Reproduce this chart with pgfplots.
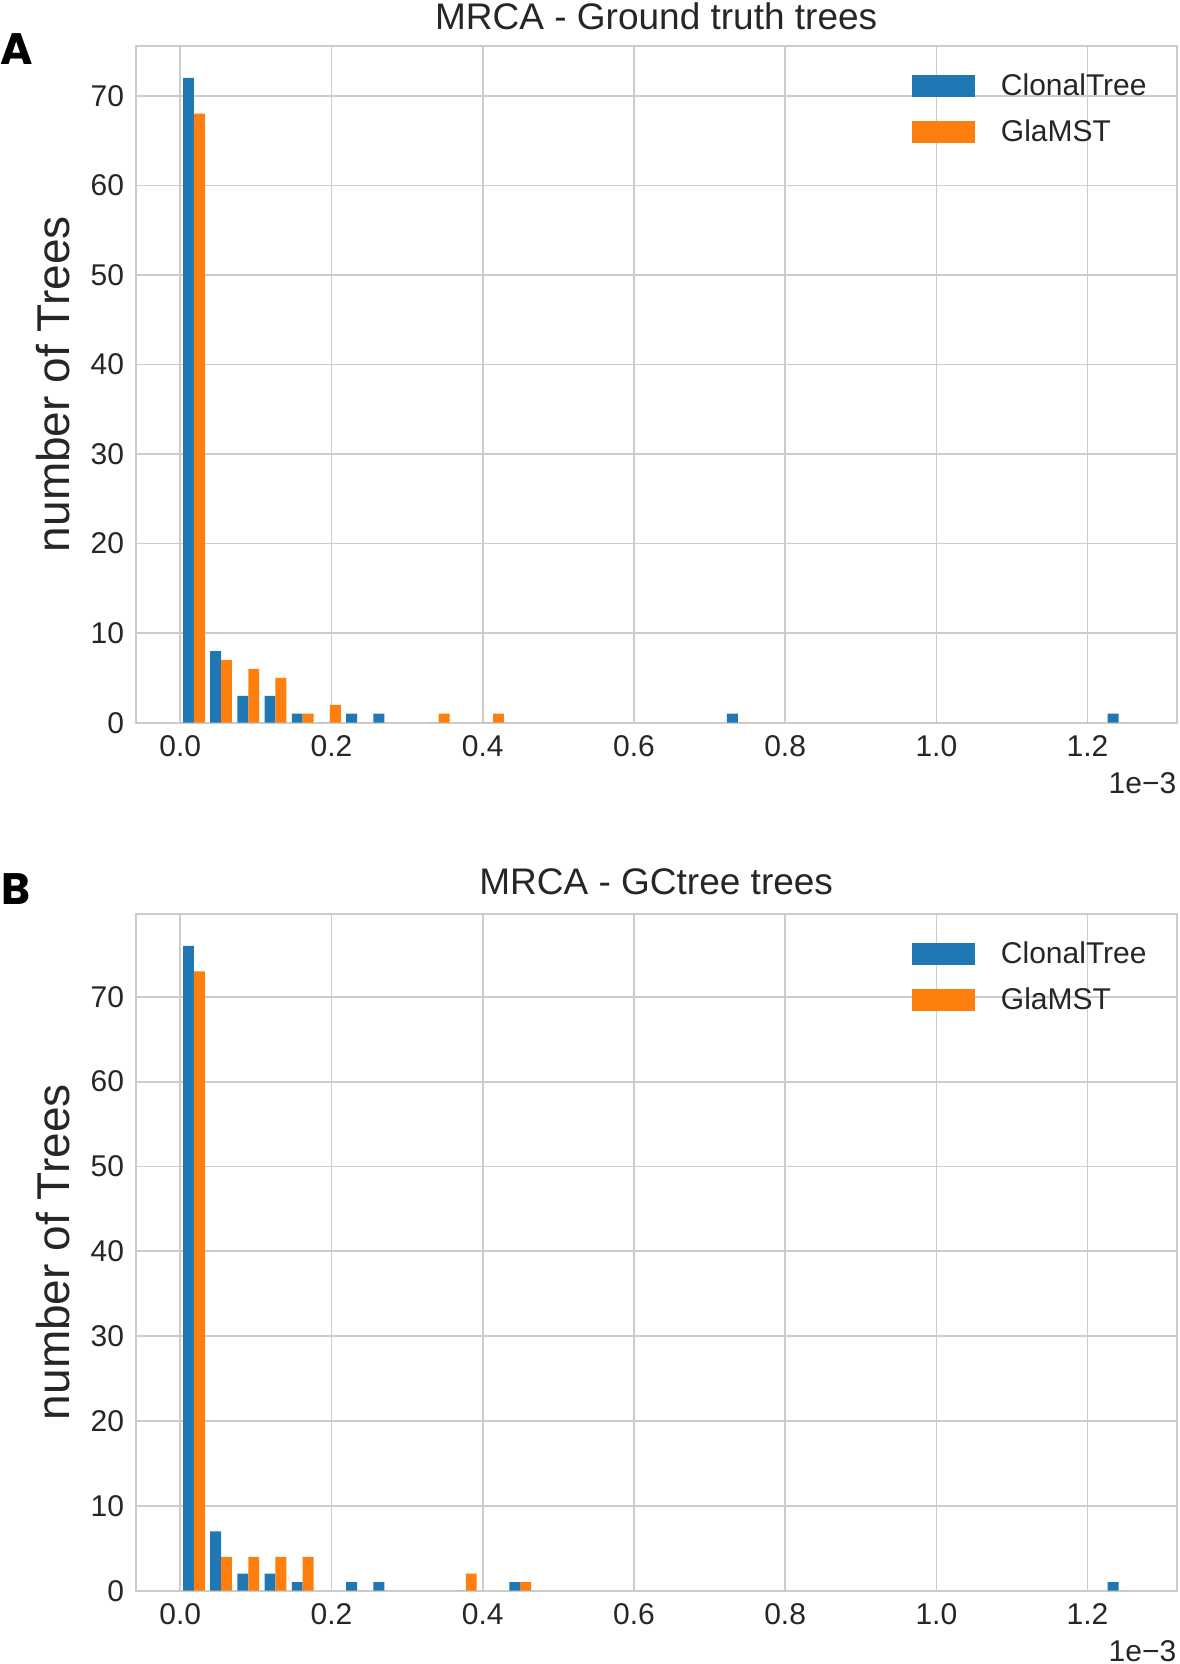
\documentclass[border=0pt]{standalone}
\usepackage{fontspec}
\setmainfont{Liberation Sans}
\newfontfamily\panelfont{Poppins}
\usepackage{pgfplots}
\pgfplotsset{compat=1.18}
\usepackage{pgfplotstable}
\definecolor{tabblue}{HTML}{1F77B4}
\definecolor{taborange}{HTML}{FF7F0E}
\definecolor{gridc}{HTML}{CCCCCC}
\definecolor{txt}{HTML}{262626}

% bin left edge (x 1e-3), counts
\pgfplotstableread{
left blue orange
0.00000 72 68
0.03597 8 7
0.07194 3 6
0.10791 3 5
0.14388 1 1
0.17985 0 2
0.21582 1 0
0.25179 1 0
0.32373 0 1
0.39567 0 1
0.71940 1 0
1.22298 1 0
}\histA

\pgfplotstableread{
left blue orange
0.00000 76 73
0.03597 7 4
0.07194 2 4
0.10791 2 4
0.14388 1 4
0.21582 1 0
0.25179 1 0
0.35970 0 2
0.43164 1 1
1.22298 1 0
}\histB

\pgfplotsset{
  mybar/.style={ybar, bar width=0.014388, bar shift=0pt, draw=none,
    legend image code/.code={\fill[##1] (0bp,-5.5bp) rectangle (31.5bp,5.5bp);}},
  panel/.style={
    anchor=south west,
    clip mode=individual,
    width=520.5bp, height=338.5bp, scale only axis,
    xmin=-0.0590, xmax=1.3179, ymin=0,
    xtick={0,0.2,0.4,0.6,0.8,1.0,1.2},
    xticklabels={0.0,0.2,0.4,0.6,0.8,1.0,1.2},
    ytick={0,10,20,30,40,50,60,70},
    yticklabels={0,10,20,30,40,50,60,70},
    major tick length=0pt,
    grid=major,
    major grid style={draw=gridc, line width=0.85bp},
    axis line style={draw=gridc, line width=0.9bp},
    tick label style={font=\fontsize{15bp}{18bp}\selectfont, text=txt},
    xticklabel style={anchor=center, yshift=-11.65bp, inner sep=0pt},
    yticklabel style={anchor=east, inner sep=0pt, xshift=-5.6bp},
    every axis y label/.style={at={(axis description cs:-0.06407,0.5)}, rotate=90, anchor=base,
      inner sep=0pt, font=\fontsize{23bp}{27bp}\selectfont, text=txt},
    ylabel={number of Trees},
    every axis title/.style={at={(axis description cs:0.5,1)}, anchor=base, yshift=9.4bp,
      inner sep=0pt, font=\fontsize{18.5bp}{22bp}\selectfont, text=txt},
    legend cell align=left,
    legend style={at={(axis description cs:0.7457,0.9588)}, anchor=north west,
      draw=none, fill=none, inner sep=0pt, outer sep=0pt, row sep=10.9bp,
      font=\fontsize{15bp}{18bp}\selectfont, text=txt,
      nodes={inner sep=0pt},
      /tikz/every odd column/.append style={column sep=13bp}},
  }
}

\begin{document}
\begin{tikzpicture}
\useasboundingbox (0,0) rectangle (590bp,832bp);

\begin{axis}[panel, at={(67.85bp,470.65bp)}, ymax=75.6,
  title={MRCA - Ground truth trees}, title style={yshift=-1.2bp}]
\addplot[mybar, fill=tabblue] table[x expr=\thisrow{left}+0.010791, y=blue] {\histA};
\addlegendentry{ClonalTree}
\addplot[mybar, fill=taborange] table[x expr=\thisrow{left}+0.025179, y=orange] {\histA};
\addlegendentry{GlaMST}
\node[anchor=east, inner sep=0pt, font=\fontsize{15bp}{18bp}\selectfont, text=txt, yshift=-30.3bp] at (rel axis cs:1,0) {1e−3};
\end{axis}

\begin{axis}[panel, at={(67.85bp,36.65bp)}, ymax=79.8,
  title={MRCA - GCtree trees}]
\addplot[mybar, fill=tabblue] table[x expr=\thisrow{left}+0.010791, y=blue] {\histB};
\addlegendentry{ClonalTree}
\addplot[mybar, fill=taborange] table[x expr=\thisrow{left}+0.025179, y=orange] {\histB};
\addlegendentry{GlaMST}
\node[anchor=east, inner sep=0pt, font=\fontsize{15bp}{18bp}\selectfont, text=txt, yshift=-30.3bp] at (rel axis cs:1,0) {1e−3};
\end{axis}

\node[anchor=base west, inner sep=0pt, font=\panelfont\bfseries\fontsize{22bp}{26bp}\selectfont] at (0bp,799.5bp) {A};
\node[anchor=base west, inner sep=0pt, font=\panelfont\bfseries\fontsize{22bp}{26bp}\selectfont] at (0.5bp,379.5bp) {B};
\end{tikzpicture}
\end{document}
